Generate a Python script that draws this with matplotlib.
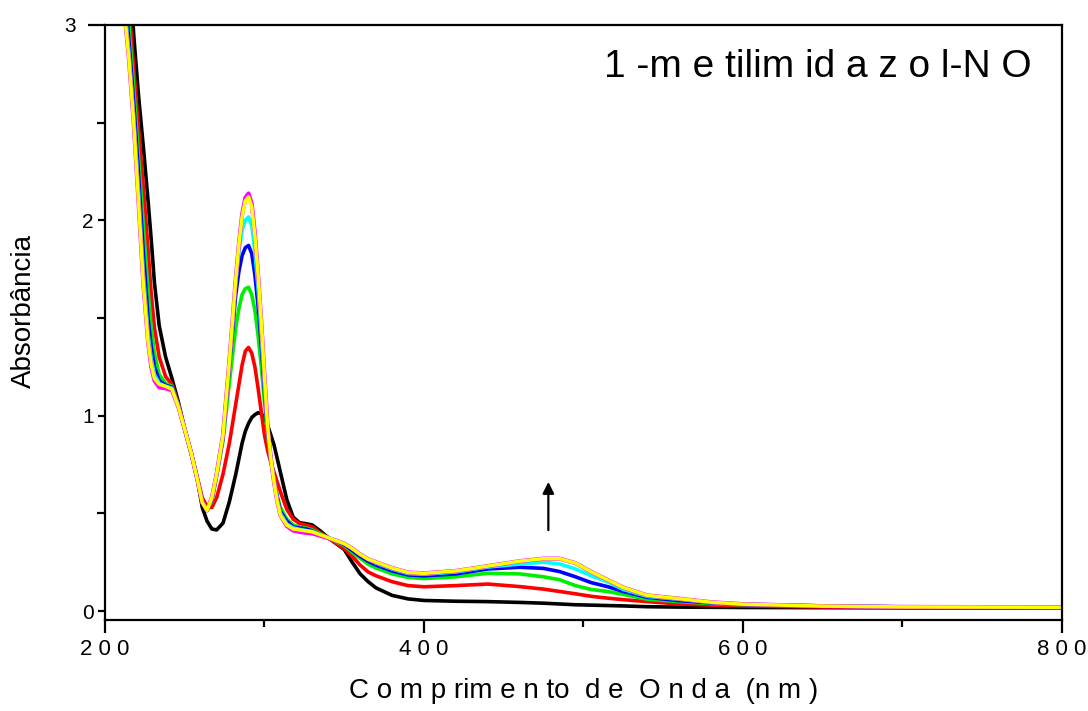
import matplotlib
matplotlib.use("Agg")
import matplotlib.pyplot as plt
from matplotlib.ticker import MultipleLocator
from matplotlib.transforms import ScaledTranslation

plt.rcParams['font.family'] = ['Liberation Sans', 'DejaVu Sans']

# wavelength grid (nm)
wl = [212, 215, 218, 221, 224, 227, 229, 231, 234, 238, 242, 246, 250, 254,
      258, 261, 264, 267, 270, 274, 278, 282, 284, 286, 288, 290, 292, 294,
      296, 298, 300, 302, 304, 306, 308, 310, 314, 318, 322, 326, 330, 335,
      340, 345, 350, 355, 360, 365, 370, 380, 390, 400, 420, 440, 460, 475,
      485, 495, 505, 515, 525, 540, 560, 580, 600, 650, 700, 800]

abs_black = [3.7, 3.35, 2.95, 2.64, 2.38, 2.1, 1.9, 1.68, 1.46, 1.30, 1.19,
             1.07, 0.93, 0.81, 0.67, 0.53, 0.46, 0.42, 0.415, 0.45, 0.56,
             0.70, 0.78, 0.86, 0.92, 0.96, 0.99, 1.005, 1.015, 1.01, 0.99,
             0.95, 0.90, 0.85, 0.78, 0.71, 0.57, 0.48, 0.452, 0.447, 0.44,
             0.41, 0.375, 0.345, 0.315, 0.25, 0.19, 0.15, 0.118, 0.08, 0.062,
             0.054, 0.05, 0.048, 0.044, 0.04, 0.036, 0.032, 0.03, 0.028,
             0.026, 0.022, 0.02, 0.019, 0.018, 0.017, 0.016, 0.015]

abs_red = [3.45, 3.1, 2.78, 2.47, 2.18, 1.85, 1.62, 1.45, 1.3, 1.2, 1.16,
           1.06, 0.93, 0.81, 0.68, 0.58, 0.535, 0.53, 0.58, 0.70, 0.86,
           1.06, 1.16, 1.26, 1.33, 1.349, 1.32, 1.25, 1.14, 1.02, 0.90,
           0.82, 0.76, 0.71, 0.66, 0.61, 0.52, 0.47, 0.448, 0.44, 0.43,
           0.40, 0.375, 0.345, 0.32, 0.28, 0.235, 0.2, 0.18, 0.15, 0.13,
           0.124, 0.13, 0.138, 0.125, 0.112, 0.1, 0.088, 0.075, 0.066,
           0.058, 0.048, 0.036, 0.03, 0.026, 0.021, 0.018, 0.016]

abs_green = [3.3, 3.0, 2.68, 2.33, 1.98, 1.64, 1.45, 1.32, 1.21, 1.165, 1.15,
             1.05, 0.93, 0.81, 0.67, 0.56, 0.52, 0.56, 0.69, 0.87, 1.17,
             1.45, 1.55, 1.62, 1.65, 1.657, 1.62, 1.54, 1.41, 1.25, 1.07,
             0.90, 0.77, 0.67, 0.59, 0.53, 0.47, 0.44, 0.43, 0.425, 0.415,
             0.395, 0.375, 0.355, 0.335, 0.30, 0.27, 0.24, 0.22, 0.19, 0.172,
             0.166, 0.175, 0.193, 0.19, 0.175, 0.16, 0.13, 0.11, 0.1, 0.085,
             0.06, 0.048, 0.038, 0.032, 0.025, 0.021, 0.018]

abs_blue = [3.2, 2.92, 2.6, 2.24, 1.84, 1.5, 1.35, 1.25, 1.18, 1.155, 1.145,
            1.05, 0.93, 0.81, 0.67, 0.555, 0.515, 0.57, 0.70, 0.89, 1.26,
            1.62, 1.74, 1.82, 1.86, 1.871, 1.83, 1.72, 1.56, 1.36, 1.13,
            0.92, 0.78, 0.67, 0.58, 0.51, 0.46, 0.43, 0.425, 0.42, 0.41,
            0.39, 0.375, 0.36, 0.34, 0.31, 0.28, 0.255, 0.235, 0.205, 0.185,
            0.18, 0.19, 0.215, 0.224, 0.218, 0.202, 0.175, 0.145, 0.125, 0.1,
            0.07, 0.053, 0.042, 0.034, 0.026, 0.021, 0.019]

abs_cyan = [3.12, 2.86, 2.53, 2.15, 1.73, 1.42, 1.29, 1.21, 1.165, 1.15, 1.14,
            1.05, 0.93, 0.81, 0.67, 0.555, 0.515, 0.575, 0.70, 0.90, 1.27,
            1.68, 1.84, 1.95, 2.0, 2.017, 1.97, 1.84, 1.65, 1.42, 1.16,
            0.93, 0.78, 0.67, 0.57, 0.50, 0.445, 0.425, 0.418, 0.412, 0.407,
            0.39, 0.375, 0.36, 0.345, 0.32, 0.29, 0.265, 0.245, 0.215, 0.192,
            0.188, 0.2, 0.225, 0.24, 0.25, 0.241, 0.215, 0.18, 0.15, 0.11,
            0.075, 0.06, 0.044, 0.035, 0.026, 0.021, 0.019]

abs_magenta = [3.08, 2.83, 2.5, 2.1, 1.68, 1.38, 1.25, 1.18, 1.145, 1.14,
               1.13, 1.045, 0.93, 0.81, 0.67, 0.555, 0.515, 0.58, 0.70, 0.90,
               1.28, 1.70, 1.88, 2.03, 2.115, 2.137, 2.085, 1.93, 1.72, 1.48,
               1.2, 0.94, 0.78, 0.66, 0.56, 0.49, 0.435, 0.412, 0.405, 0.4,
               0.397, 0.385, 0.372, 0.36, 0.345, 0.32, 0.29, 0.265, 0.25,
               0.22, 0.197, 0.193, 0.205, 0.23, 0.255, 0.268, 0.268, 0.245,
               0.2, 0.16, 0.12, 0.08, 0.063, 0.045, 0.035, 0.025, 0.021, 0.019]

abs_yellow = [3.08, 2.83, 2.5, 2.1, 1.68, 1.38, 1.26, 1.19, 1.16, 1.15, 1.135,
              1.045, 0.93, 0.81, 0.67, 0.555, 0.515, 0.58, 0.70, 0.90, 1.28,
              1.70, 1.88, 2.02, 2.10, 2.12, 2.07, 1.92, 1.72, 1.48, 1.2,
              0.94, 0.78, 0.66, 0.56, 0.49, 0.44, 0.42, 0.415, 0.41, 0.405,
              0.39, 0.375, 0.36, 0.345, 0.32, 0.29, 0.265, 0.25, 0.22, 0.197,
              0.193, 0.205, 0.23, 0.255, 0.268, 0.268, 0.245, 0.2, 0.16, 0.12,
              0.08, 0.063, 0.045, 0.035, 0.025, 0.021, 0.019]

series = [(abs_black, 'black', 2.6), (abs_red, 'red', 2.6),
          (abs_green, '#00ee00', 2.6), (abs_blue, 'blue', 2.6),
          (abs_cyan, 'cyan', 2.6), (abs_magenta, 'magenta', 3.0),
          (abs_yellow, 'yellow', 2.5)]

fig = plt.figure(figsize=(10.88, 7.11), dpi=100)
ax = fig.add_axes([0.0965, 0.128, 0.8795, 0.837])

for vals, col, w in series:
    ax.plot(wl, vals, color=col, lw=w, solid_joinstyle='round')

ax.set_xlim(200, 800)
ax.set_ylim(-0.046, 3.0)

ax.xaxis.set_minor_locator(MultipleLocator(100))
ax.yaxis.set_minor_locator(MultipleLocator(0.5))
ax.set_xticks([200, 400, 600, 800])
ax.set_xticklabels(['2 0 0', '4 0 0', '6 0 0', '8 0 0'])
ax.set_yticks([0, 1, 2, 3])

for s in ax.spines.values():
    s.set_linewidth(1.6)
ax.tick_params(axis='x', which='major', direction='out', length=9, width=1.6,
               labelsize=16, pad=5)
ax.tick_params(axis='x', which='minor', direction='out', length=5, width=1.6)
ax.tick_params(axis='y', which='major', direction='out', length=5, width=1.6,
               labelsize=15, pad=3)
ax.tick_params(axis='y', which='minor', direction='out', length=6, width=1.6)

# the top tick (3) sticks out further, its label sits further left
top = ax.yaxis.get_major_ticks()[3]
top.tick1line.set_markersize(12)
top.label1.set_transform(top.label1.get_transform()
                         + ScaledTranslation(-0.18, 0, fig.dpi_scale_trans))

ax.set_xlabel('C o m p rim e n to  d e  O n d a  (n m )', fontsize=20, labelpad=13)
ax.set_ylabel('Absorbância', fontsize=20)
ax.yaxis.set_label_coords(-0.071, 0.519)

ax.text(0.968, 0.93, '1 -m e tilim id a z o l-N O', transform=ax.transAxes,
        fontsize=28, ha='right', va='center')

ax.annotate('', xy=(478, 0.675), xytext=(478, 0.40),
            arrowprops=dict(arrowstyle='-|>', color='black', lw=1.6,
                            mutation_scale=17))

fig.savefig('out.png', dpi=100)
